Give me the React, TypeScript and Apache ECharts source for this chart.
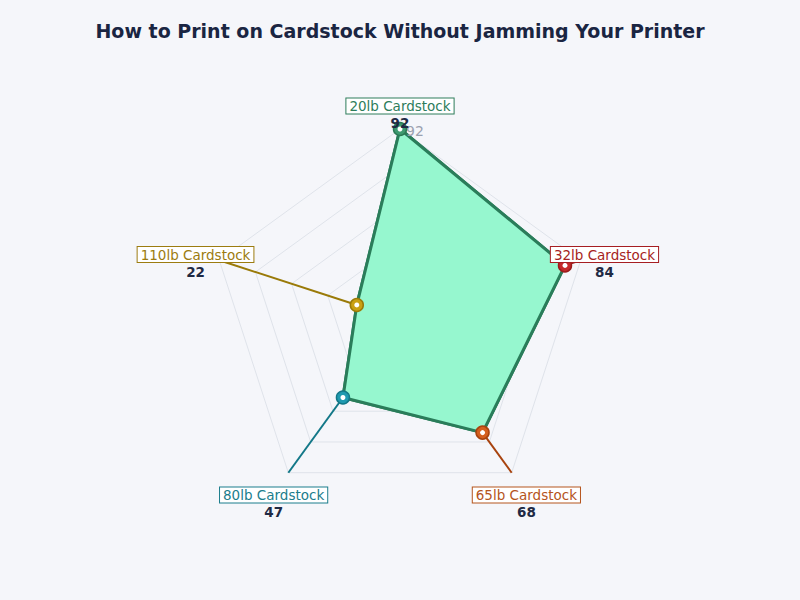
import { useEffect, useRef } from "react";
import * as echarts from "echarts";

const categories = ["20lb Cardstock", "110lb Cardstock", "80lb Cardstock", "65lb Cardstock", "32lb Cardstock"];
const scores = [92, 22, 47, 68, 84];
const maxScore = 92;

// marker fill, marker border / line, label text
const fillColors = ["#3d9a70", "#c9a012", "#1f9ab0", "#d45f1e", "#c62a2a"];
const edgeColors = ["#2b7a55", "#9a7a08", "#137888", "#a8430e", "#9b1c1c"];
const textColors = ["#2e7d5b", "#9c7c10", "#1b7d8c", "#b5541c", "#a61e22"];

const CENTER: [number, number] = [400, 319];
const RADIUS = 190;

export default function App() {
  const chartRef = useRef<HTMLDivElement>(null);

  useEffect(() => {
    document.body.style.margin = "0";
    if (!chartRef.current) return;
    const chart = echarts.init(chartRef.current, undefined, { renderer: "svg" });

    chart.setOption({
      animation: false,
      backgroundColor: "#f5f6fa",
      textStyle: { fontFamily: "DejaVu Sans" },
      title: {
        text: "How to Print on Cardstock Without Jamming Your Printer",
        left: "center",
        top: 16,
        textStyle: { fontSize: 19, fontWeight: "bold", color: "#1a2542", fontFamily: "DejaVu Sans" }
      },
      radar: {
        center: CENTER,
        radius: RADIUS,
        startAngle: 90,
        splitNumber: 5,
        shape: "polygon",
        indicator: categories.map(name => ({ name, max: maxScore, min: 0 })),
        axisName: { show: false },
        axisLine: { lineStyle: { color: "#dfe3ea", width: 1 } },
        splitLine: { lineStyle: { color: "#dfe3ea", width: 1 } },
        splitArea: { show: false }
      },
      series: [
        {
          type: "radar",
          symbol: "none",
          lineStyle: { color: "#2a7d5a", width: 3 },
          areaStyle: { color: "#96f7cf", opacity: 1 },
          data: [{ value: scores }]
        }
      ]
    });

    // place connectors, outline, markers and labels with the radar's own coordinate system
    const coordSys = (chart as any).getModel().getComponent("radar").coordinateSystem;
    const graphics: any[] = [];
    const outline = scores.map((v, i) => coordSys.dataToPoint(v, i));
    graphics.push({
      type: "polygon",
      z: 9,
      shape: { points: outline },
      style: { fill: "none", stroke: "#2a7d5a", lineWidth: 3, lineJoin: "round" }
    });
    categories.forEach((name, i) => {
      const p = outline[i];
      const end = coordSys.dataToPoint(maxScore, i);
      const lab = coordSys.coordToPoint(RADIUS + 25, i);
      if (i > 0) {
        graphics.push({
          type: "line",
          z: 10,
          shape: { x1: p[0], y1: p[1], x2: end[0], y2: end[1] },
          style: { stroke: edgeColors[i], lineWidth: 2 }
        });
      }
      graphics.push({
        type: "circle",
        z: 12,
        shape: { cx: p[0], cy: p[1], r: 6.5 },
        style: { fill: fillColors[i], stroke: edgeColors[i], lineWidth: 1.5 }
      });
      graphics.push({
        type: "circle",
        z: 13,
        shape: { cx: p[0], cy: p[1], r: 2.5 },
        style: { fill: "#ffffff" }
      });
      graphics.push({
        type: "text",
        z: 14,
        x: lab[0],
        y: lab[1] + 2,
        style: {
          text: name,
          fill: textColors[i],
          font: "13.5px 'DejaVu Sans'",
          align: "center",
          verticalAlign: "middle",
          borderColor: textColors[i],
          borderWidth: 1,
          padding: [1, 3, 0, 3],
          backgroundColor: "#ffffff"
        }
      });
      graphics.push({
        type: "text",
        z: 14,
        x: lab[0],
        y: lab[1] + 19,
        style: {
          text: String(scores[i]),
          fill: "#1f2a44",
          font: "bold 13.5px 'DejaVu Sans'",
          align: "center",
          verticalAlign: "middle"
        }
      });
    });
    // stray value label beside the top point
    const top = outline[0];
    graphics.push({
      type: "text",
      z: 11,
      x: top[0] + 6,
      y: top[1] + 2,
      style: { text: String(scores[0]), fill: "#9ba1b0", font: "14px 'DejaVu Sans'", align: "left", verticalAlign: "middle" }
    });
    chart.setOption({ graphic: graphics });

    return () => {
      chart.dispose();
    };
  }, []);

  return <div ref={chartRef} style={{ width: 800, height: 600 }} />;
}
